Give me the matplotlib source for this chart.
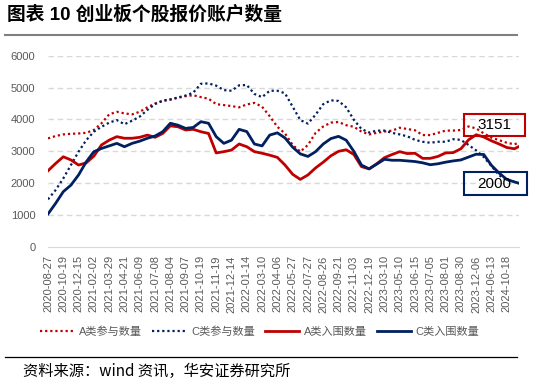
import matplotlib
matplotlib.use("Agg")
import matplotlib.pyplot as plt
from matplotlib.lines import Line2D
from matplotlib.patches import Rectangle
import numpy as np

plt.rcParams['font.family'] = ['Liberation Sans', 'Noto Sans CJK SC', 'DejaVu Sans']

# category axis labels (every tick)
tick_labels = ['2020-08-27', '2020-10-19', '2020-12-15', '2021-02-02', '2021-03-29',
               '2021-04-21', '2021-06-09', '2021-07-08', '2021-08-04', '2021-09-07',
               '2021-10-19', '2021-11-19', '2021-12-14', '2022-01-14', '2022-03-10',
               '2022-04-06', '2022-05-27', '2022-07-27', '2022-08-26', '2022-09-21',
               '2022-11-03', '2022-12-19', '2023-03-10', '2023-05-10', '2023-06-15',
               '2023-07-05', '2023-08-01', '2023-08-30', '2023-12-06', '2024-06-13',
               '2024-10-18']

a_join = [3406, 3480, 3530, 3550, 3560, 3580, 3670, 3880, 4160, 4240,
          4190, 4160, 4240, 4380, 4500, 4580, 4620, 4680, 4730, 4760,
          4700, 4650, 4480, 4450, 4420, 4380, 4470, 4520, 4400, 4100,
          3770, 3560, 3200, 2990, 3200, 3580, 3780, 3900, 3920, 3820,
          3770, 3620, 3530, 3580, 3620, 3650, 3740, 3700, 3660, 3510,
          3510, 3580, 3650, 3650, 3670, 3780, 3720, 3560, 3430, 3350,
          3270, 3220, 3270]
c_join = [1494, 1787, 2150, 2570, 2990, 3350, 3615, 3770, 3900, 3980,
          3850, 3960, 4090, 4300, 4480, 4590, 4630, 4690, 4750, 4840,
          5120, 5130, 5060, 4920, 4900, 5070, 5080, 4800, 4700, 4900,
          4900, 4820, 4400, 3980, 3870, 4150, 4480, 4600, 4580, 4380,
          3990, 3700, 3590, 3650, 3650, 3580, 3530, 3470, 3360, 3300,
          3270, 3300, 3300, 3380, 3360, 3200, 3030, 2820, 2540, 2250,
          2100, 2040, 2000]
a_win = [2390, 2620, 2830, 2730, 2570, 2640, 2850, 3200, 3350, 3460,
         3410, 3410, 3440, 3510, 3440, 3560, 3800, 3770, 3670, 3690,
         3615, 3560, 2950, 2990, 3040, 3230, 3145, 2990, 2940, 2880,
         2810, 2570, 2280, 2120, 2260, 2480, 2660, 2860, 3000, 3050,
         2900, 2520, 2450, 2610, 2800, 2900, 2990, 2930, 2940, 2780,
         2780, 2840, 2950, 2960, 3080, 3360, 3520, 3450, 3330, 3230,
         3120, 3080, 3151]
c_win = [1035, 1370, 1735, 1940, 2260, 2670, 2990, 3090, 3170, 3250,
         3145, 3250, 3320, 3410, 3480, 3615, 3880, 3820, 3720, 3750,
         3930, 3880, 3460, 3250, 3350, 3690, 3620, 3230, 3170, 3510,
         3580, 3420, 3130, 2920, 2840, 2990, 3230, 3400, 3470, 3350,
         3000, 2570, 2450, 2600, 2750, 2720, 2720, 2700, 2680, 2640,
         2580, 2610, 2660, 2700, 2730, 2820, 2910, 2900, 2560, 2320,
         2120, 2040, 2000]

RED = '#c00000'
NAVY = '#002060'
GRAY = '#595959'

x = np.minimum(np.arange(len(a_join)) * 0.5, 30.8)

fig = plt.figure(figsize=(5.46, 3.84), dpi=100)
ax = fig.add_axes([0.0879, 0.3568, 0.8626, 0.4982])

dot = (0, (1, 1.3))
ax.plot(x, a_join, color=RED, lw=1.6, linestyle=dot, label='A类参与数量', zorder=3)
ax.plot(x, c_join, color=NAVY, lw=1.6, linestyle=dot, label='C类参与数量', zorder=3)
ax.plot(x, a_win, color=RED, lw=2.0, label='A类入围数量', zorder=4)
ax.plot(x, c_win, color=NAVY, lw=2.0, label='C类入围数量', zorder=5)

ax.set_xlim(0, 30.8)
ax.set_ylim(0, 6000)
ax.set_yticks(range(0, 6001, 1000))
ax.set_xticks(range(len(tick_labels)))
ax.set_xticklabels(tick_labels, rotation=90, fontsize=8, color=GRAY)
ax.tick_params(axis='y', length=0, pad=9, labelsize=8, labelcolor=GRAY)
ax.tick_params(axis='x', length=0, pad=6)
for s in ['left', 'right', 'top']:
    ax.spines[s].set_visible(False)
ax.spines['bottom'].set_color('#d9d9d9')
for v in range(1000, 6001, 1000):
    ax.axhline(v, color='#d9d9d9', lw=1.0, linestyle=(0, (4, 2.6)), zorder=1)

# value labels at the end of the lines
def px_box(x0, y0, x1, y1, color):
    fig.add_artist(Rectangle((x0 / 546, 1 - y1 / 384), (x1 - x0) / 546, (y1 - y0) / 384,
                             transform=fig.transFigure, fill=False, edgecolor=color,
                             lw=1.5, zorder=10))

px_box(464, 114, 525, 136, RED)
fig.text(494 / 546, 1 - 125 / 384, '3151', fontsize=11, ha='center', va='center', zorder=11)
px_box(464, 172, 527, 195, NAVY)
fig.text(494 / 546, 1 - 184 / 384, '2000', fontsize=11, ha='center', va='center', zorder=11)

fig.legend(loc='center', bbox_to_anchor=(0.476, 0.137), ncol=4, frameon=False,
           fontsize=8, labelcolor=GRAY, handlelength=3.1, handletextpad=0.4,
           columnspacing=0.9)

# title and rules
fig.text(7 / 546, 1 - 15 / 384, '图表 10 创业板个股报价账户数量', fontsize=13.5,
         fontweight='bold', ha='left', va='center',
         family=['Liberation Sans', 'Noto Sans CJK SC'])
fig.add_artist(Line2D([5 / 546, 517 / 546], [1 - 35 / 384] * 2, color='#808080', lw=1.5,
                      transform=fig.transFigure))
fig.add_artist(Line2D([5 / 546, 517 / 546], [1 - 357 / 384] * 2, color='black', lw=0.9,
                      transform=fig.transFigure))
fig.text(23 / 546, 1 - 371 / 384, '资料来源：wind 资讯，华安证券研究所', fontsize=11,
         ha='left', va='center', family=['Noto Sans CJK SC', 'DejaVu Sans'])

fig.savefig('out.png', dpi=100)
